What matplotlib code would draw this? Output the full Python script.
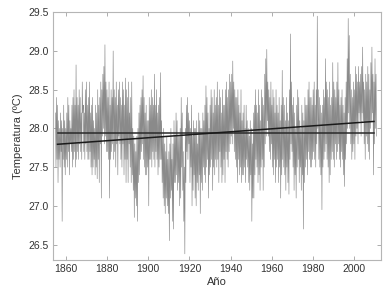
import numpy as np
import matplotlib
matplotlib.use("Agg")
import matplotlib.pyplot as plt

plt.rcParams['font.family'] = ['Liberation Sans Narrow', 'Liberation Sans', 'DejaVu Sans']

# Per-year readings: four sub-annual values (peak, trough, peak, trough), 1855-2010
first_year = 1855
temps = [
    # 1855-1859
    28.2, 27.5, 28.4, 27.6,  28.3, 27.3, 28.1, 27.6,  28.0, 27.5, 28.2, 27.7,
    28.1, 26.8, 28.0, 27.6,  28.3, 27.5, 28.1, 27.4,
    # 1860s
    28.0, 27.6, 28.2, 27.5,  28.4, 27.7, 28.3, 27.4,  28.1, 27.8, 28.0, 27.7,
    28.3, 27.5, 28.4, 27.6,  28.5, 27.7, 28.3, 27.5,  28.82, 27.6, 28.4, 27.7,
    28.3, 27.6, 28.5, 27.8,  28.4, 27.7, 28.2, 27.6,  28.6, 28.2, 28.3, 27.7,
    28.2, 27.6, 28.5, 27.8,
    # 1870s
    28.6, 27.7, 28.3, 27.6,  28.4, 27.6, 28.6, 27.7,  28.2, 27.5, 28.3, 27.4,
    28.4, 27.5, 28.1, 27.6,  28.0, 27.4, 28.3, 27.5,  28.2, 27.35, 28.5, 27.6,
    28.3, 27.3, 28.4, 27.8,  28.6, 27.1, 28.5, 27.9,  28.7, 28.0, 28.8, 27.8,
    29.08, 27.9, 28.6, 27.7,
    # 1880s
    28.5, 27.7, 28.4, 27.6,  28.6, 27.1, 28.3, 27.6,  28.5, 27.7, 28.4, 27.8,
    29.0, 27.6, 28.5, 27.7,  28.4, 27.5, 28.6, 27.8,  28.3, 27.4, 28.5, 27.9,
    28.6, 27.8, 28.4, 27.6,  28.3, 27.5, 28.6, 27.8,  28.5, 27.4, 28.3, 27.6,
    28.65, 27.3, 28.5, 27.6,
    # 1890s
    28.4, 27.3, 28.6, 27.8,  28.2, 27.5, 28.4, 27.3,  28.6, 27.4, 28.0, 27.2,
    27.9, 26.85, 27.8, 27.1,  27.7, 27.0, 27.9, 26.8,  28.0, 27.3, 28.2, 27.4,
    28.3, 27.6, 28.4, 27.7,  28.5, 27.8, 28.68, 27.6,  28.4, 27.5, 28.2, 27.4,
    28.3, 27.4, 28.1, 27.5,
    # 1900s
    28.1, 27.0, 28.4, 27.6,  28.3, 27.6, 28.5, 27.5,  28.4, 27.7, 28.3, 27.6,
    28.7, 27.5, 28.3, 27.7,  28.5, 27.6, 28.2, 27.4,  28.3, 27.5, 28.4, 27.6,
    28.72, 27.6, 28.1, 27.3,  27.9, 27.1, 28.0, 27.0,  27.8, 26.9, 27.7, 27.1,
    27.9, 27.0, 27.6, 26.9,
    # 1910s
    27.7, 26.55, 27.8, 27.1,  28.0, 27.2, 27.6, 26.8,  27.8, 26.7, 28.1, 27.3,
    27.9, 27.3, 28.2, 27.4,  28.1, 27.2, 27.9, 27.3,  27.9, 27.0, 28.0, 27.1,
    28.4, 27.5, 28.2, 27.2,  27.7, 26.8, 27.5, 26.38,  28.0, 27.3, 28.3, 27.7,
    28.4, 27.6, 28.2, 27.8,
    # 1920s
    28.1, 27.3, 28.0, 27.5,  28.3, 27.0, 27.9, 27.2,  28.1, 27.4, 28.0, 27.1,
    28.0, 27.0, 28.1, 27.3,  27.8, 27.2, 28.2, 27.4,  28.1, 26.9, 28.0, 27.3,
    28.0, 27.2, 28.2, 27.5,  28.1, 27.4, 28.3, 27.3,  28.55, 27.5, 28.4, 27.6,
    28.2, 27.1, 28.0, 27.4,
    # 1930s
    28.3, 27.5, 28.5, 27.6,  28.4, 27.2, 28.2, 27.5,  28.5, 27.4, 28.3, 27.6,
    28.4, 27.5, 28.6, 27.6,  28.3, 27.3, 28.5, 27.7,  28.4, 27.5, 28.2, 27.3,
    28.5, 27.4, 28.3, 27.6,  28.3, 27.3, 28.5, 27.7,  28.6, 27.6, 28.4, 27.5,
    28.5, 27.7, 28.7, 27.8,
    # 1940s
    28.6, 27.9, 28.7, 27.8,  28.87, 28.0, 28.6, 27.7,  28.5, 27.6, 28.4, 27.5,
    28.4, 27.3, 28.5, 27.6,  28.3, 27.4, 28.2, 27.5,  28.5, 27.3, 28.1, 27.4,
    28.2, 27.4, 28.3, 27.5,  28.0, 27.3, 28.3, 27.6,  28.1, 27.5, 28.0, 27.3,
    27.9, 27.2, 28.1, 27.4,
    # 1950s
    28.0, 26.8, 27.8, 27.1,  28.2, 27.1, 28.3, 27.4,  28.5, 27.6, 28.3, 27.5,
    28.2, 27.3, 28.5, 27.4,  28.3, 27.2, 28.1, 27.5,  28.5, 27.6, 28.4, 27.2,
    28.3, 27.5, 28.7, 27.8,  28.9, 27.9, 29.02, 28.1,  28.6, 27.9, 28.5, 27.7,
    28.4, 27.6, 28.6, 27.8,
    # 1960s
    28.3, 27.5, 28.5, 27.4,  28.4, 27.6, 28.2, 27.3,  28.5, 27.5, 28.3, 27.6,
    28.2, 27.3, 28.4, 27.5,  28.1, 27.1, 28.3, 27.4,  28.75, 27.6, 28.4, 27.5,
    28.3, 27.4, 28.1, 27.2,  28.4, 27.5, 28.2, 27.3,  28.1, 27.15, 28.5, 27.6,
    29.22, 27.8, 28.6, 27.7,
    # 1970s
    28.3, 27.5, 28.4, 27.2,  28.2, 27.4, 28.0, 27.1,  28.3, 27.5, 28.5, 27.6,
    28.4, 27.3, 28.1, 27.5,  28.0, 27.2, 28.3, 27.4,  28.2, 26.7, 28.1, 27.3,
    28.4, 27.5, 28.3, 27.6,  28.3, 27.4, 28.5, 27.7,  28.6, 27.6, 28.4, 27.5,
    28.4, 27.5, 28.3, 27.6,
    # 1980s
    28.5, 27.7, 28.6, 27.6,  28.3, 27.5, 28.5, 27.8,  29.45, 28.0, 28.5, 27.6,
    28.4, 27.5, 28.3, 27.4,  28.2, 26.95, 28.3, 27.5,  28.5, 27.6, 28.4, 27.7,
    28.9, 27.8, 28.6, 27.6,  28.5, 27.5, 28.4, 27.3,  28.6, 27.4, 28.3, 27.6,
    28.4, 27.7, 28.85, 27.6,
    # 1990s
    28.6, 27.5, 28.5, 27.8,  28.4, 27.6, 28.6, 27.7,  28.85, 27.8, 28.5, 27.6,
    28.3, 27.5, 28.4, 27.7,  28.5, 27.6, 28.3, 27.4,  28.2, 27.25, 28.4, 27.6,
    28.6, 27.8, 28.9, 28.0,  29.42, 28.2, 29.2, 28.0,  28.7, 27.8, 28.5, 27.6,
    28.4, 27.7, 28.6, 27.8,
    # 2000s
    28.5, 27.6, 28.8, 27.9,  28.7, 28.0, 28.6, 27.8,  28.8, 28.2, 28.6, 28.1,
    28.7, 27.9, 28.8, 28.2,  29.05, 28.1, 28.6, 27.8,  28.5, 27.6, 28.7, 27.9,
    28.6, 27.8, 28.8, 27.7,  28.7, 27.6, 28.5, 28.0,  28.85, 28.1, 29.05, 28.2,
    28.7, 27.4, 28.6, 27.8,
    # 2010
    28.9, 28.0, 28.7, 27.9,
]
samples_per_year = 4

# Reference lines: long-term mean and linear trend
line_years = [1856.0, 2009.5]
mean_temp = 27.945
trend_temps = [27.795, 28.09]

x_ticks = [1860, 1880, 1900, 1920, 1940, 1960, 1980, 2000]
y_ticks = [26.5, 27.0, 27.5, 28.0, 28.5, 29.0, 29.5]

temps_arr = np.array(temps)
t = first_year + np.arange(len(temps_arr)) / samples_per_year

fig = plt.figure(figsize=(3.91, 2.97), dpi=100)
ax = fig.add_axes([0.1355, 0.1246, 0.8389, 0.834])

ax.plot(t, temps_arr, color='#8a8a8a', lw=0.45, zorder=2)
ax.plot(line_years, [mean_temp, mean_temp], color='#2a2a2a', lw=1.1, zorder=3)
ax.plot(line_years, trend_temps, color='#1a1a1a', lw=1.1, zorder=3)

ax.set_xlim(1853.8, 2012.9)
ax.set_ylim(26.3, 29.5)
ax.set_xticks(x_ticks)
ax.set_yticks(y_ticks)
ax.set_yticklabels([f"{v:.1f}" for v in y_ticks])

ax.tick_params(direction='in', length=3, width=0.6, color='#a0a0a0',
               top=True, right=True, labelsize=7.5, labelcolor='#333333', pad=3)
for s in ax.spines.values():
    s.set_color('#b5b5b5')
    s.set_linewidth(0.8)

ax.set_xlabel('Año', fontsize=8, color='#333333', labelpad=2)
ax.set_ylabel('Temperatura (ºC)', fontsize=8, color='#333333', labelpad=4)

fig.savefig('out.png', dpi=100)
